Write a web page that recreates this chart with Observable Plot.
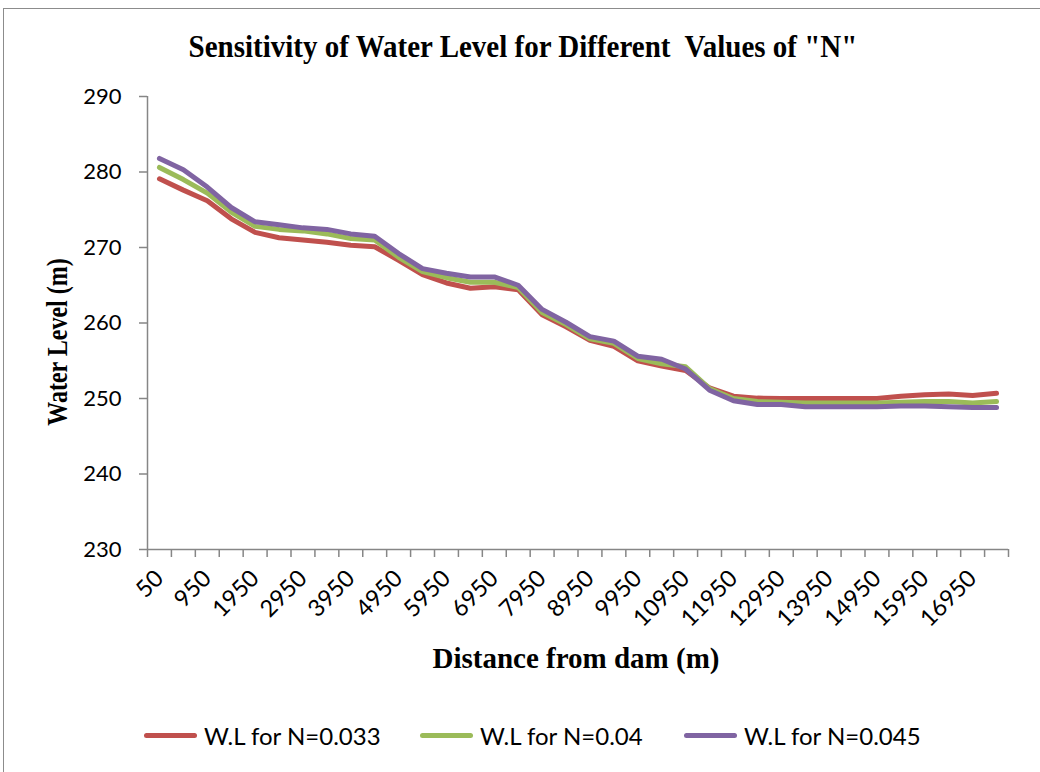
<!DOCTYPE html>
<html>
<head>
<meta charset="utf-8">
<script src="https://cdn.jsdelivr.net/npm/d3@7"></script>
<script src="https://cdn.jsdelivr.net/npm/@observablehq/plot@0.6"></script>
<style>
  html, body { margin: 0; padding: 0; background: #fff; }
  body { width: 1040px; height: 772px; position: relative; overflow: hidden; }
  #frame { position: absolute; left: 3px; top: 8px; width: 1100px; height: 800px; border: 1.5px solid #8c8c8c; box-sizing: border-box; }
  #title { position: absolute; left: 0; width: 1046px; top: 30px; text-align: center; font: bold 29px "Liberation Serif", "Times New Roman", serif; color: #000; white-space: pre; transform: scaleY(1.08); }
  #ylab { position: absolute; left: 58px; top: 342px; transform: translate(-50%, -50%) rotate(-90deg) scaleY(1.2); font: bold 24px "Liberation Serif", serif; white-space: nowrap; }
  #xlab { position: absolute; left: 0; width: 1152px; top: 642px; text-align: center; font: bold 29px "Liberation Serif", serif; white-space: nowrap; }
  #chart { position: absolute; left: 0; top: 0; }
  #legend { position: absolute; top: 721px; left: 0; font: 24px Lato, sans-serif; }
  .item { position: absolute; display: flex; align-items: center; white-space: nowrap; }
  .sw { display: inline-block; width: 53px; height: 5px; border-radius: 3px; margin-right: 7px; }
</style>
</head>
<body>
<div id="frame"></div>
<div id="chart"></div>
<div id="title">Sensitivity of Water Level for Different  Values of "N"</div>
<div id="ylab">Water Level (m)</div>
<div id="xlab">Distance from dam (m)</div>
<div id="legend"></div>
<script>
const distances = [50, 500, 950, 1450, 1950, 2450, 2950, 3450, 3950, 4450, 4950, 5450, 5950, 6450, 6950, 7450, 7950, 8450, 8950, 9450, 9950, 10450, 10950, 11450, 11950, 12450, 12950, 13450, 13950, 14450, 14950, 15450, 15950, 16450, 16950, 17450];

const wlN033 = [279.1, 277.6, 276.2, 273.8, 272.0, 271.3, 271.0, 270.7, 270.3, 270.1, 268.3, 266.4, 265.3, 264.6, 264.8, 264.4, 261.1, 259.5, 257.7, 256.9, 255.0, 254.3, 253.7, 251.4, 250.3, 250.05, 250.0, 250.0, 250.0, 250.0, 250.0, 250.3, 250.5, 250.6, 250.4, 250.7];
const wlN040 = [280.6, 279.0, 277.2, 274.7, 272.8, 272.4, 272.2, 271.8, 271.2, 271.0, 268.7, 266.8, 266.0, 265.4, 265.4, 264.7, 261.4, 259.8, 257.9, 257.3, 255.3, 254.6, 254.2, 251.3, 250.0, 249.6, 249.5, 249.4, 249.4, 249.4, 249.4, 249.5, 249.6, 249.6, 249.4, 249.6];
const wlN045 = [281.8, 280.3, 278.0, 275.3, 273.4, 273.0, 272.6, 272.4, 271.8, 271.5, 269.2, 267.2, 266.6, 266.1, 266.1, 265.0, 261.8, 260.1, 258.2, 257.6, 255.6, 255.2, 253.9, 251.1, 249.7, 249.2, 249.2, 248.9, 248.9, 248.9, 248.9, 249.0, 249.0, 248.9, 248.8, 248.8];

const seriesNames = ["W.L for N=0.033", "W.L for N=0.04", "W.L for N=0.045"];
const seriesColors = ["#C0504D", "#9BBB59", "#8064A2"];
const yTicks = [230, 240, 250, 260, 270, 280, 290];

const allSeries = [wlN033, wlN040, wlN045];
const data = [];
allSeries.forEach((vals, s) => vals.forEach((v, i) => data.push({i, dist: distances[i], value: v, series: seriesNames[s]})));

const n = distances.length;
const labelIdx = d3.range(0, n, 2);
const tickPos = d3.range(-0.5, n, 1);
const axisGray = "#868686";

const chart = Plot.plot({
  width: 1040,
  height: 700,
  marginLeft: 147,
  marginRight: 32,
  marginTop: 96,
  marginBottom: 151,
  style: { fontFamily: "Lato, sans-serif", fontSize: "22px", color: "#000", background: "transparent" },
  x: { type: "linear", domain: [-0.5, n - 0.5], axis: null },
  y: { domain: [230, 290], axis: null },
  color: { domain: seriesNames, range: seriesColors },
  marks: [
    Plot.axisY({ ticks: yTicks, tickSize: 8, tickPadding: 18, stroke: axisGray, fill: "#000", strokeWidth: 1.5, label: null }),
    Plot.axisX({ ticks: tickPos, tickSize: 8, tickFormat: () => "", stroke: axisGray, strokeWidth: 1.5, label: null }),
    Plot.axisX({ ticks: labelIdx, tickSize: 0, tickPadding: 25, tickRotate: -45, tickFormat: i => String(distances[i]), fill: "#000", fontSize: 23.5, label: null }),
    Plot.ruleX([-0.5], { stroke: axisGray, strokeWidth: 1.5 }),
    Plot.ruleY([230], { stroke: axisGray, strokeWidth: 1.5 }),
    Plot.line(data, { x: "i", y: "value", z: "series", stroke: "series", strokeWidth: 5, strokeLinejoin: "round", strokeLinecap: "round" })
  ]
});
document.getElementById("chart").appendChild(chart);

const legendX = [144, 420, 684];
const legend = document.getElementById("legend");
seriesNames.forEach((name, k) => {
  const it = document.createElement("div");
  it.className = "item";
  it.style.left = legendX[k] + "px";
  const sw = document.createElement("span");
  sw.className = "sw";
  sw.style.background = seriesColors[k];
  it.appendChild(sw);
  it.appendChild(document.createTextNode(name));
  legend.appendChild(it);
});
</script>
</body>
</html>
